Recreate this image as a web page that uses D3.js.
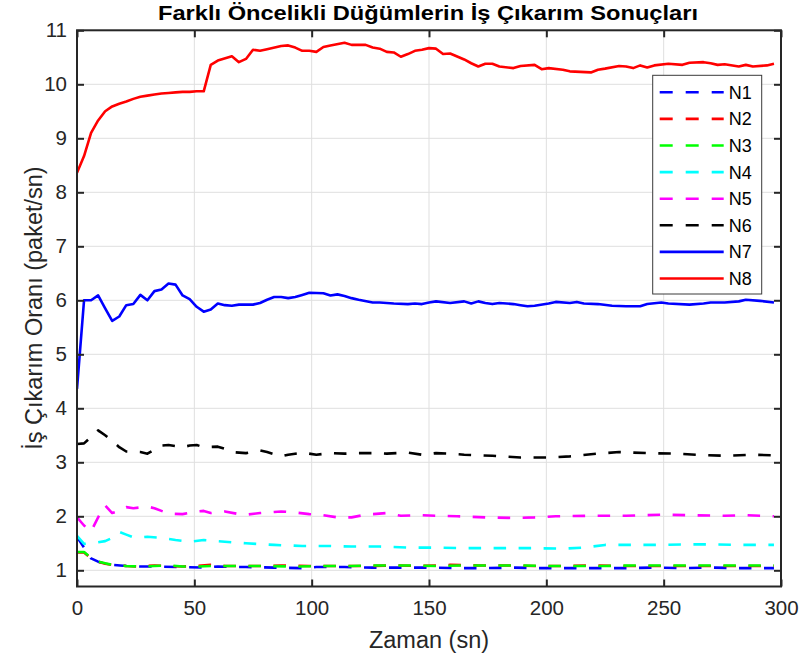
<!DOCTYPE html>
<html><head><meta charset="utf-8">
<script src="https://cdn.jsdelivr.net/npm/d3@7/dist/d3.min.js"></script>
<style>
body{margin:0;background:#fff}
svg{display:block}
text{font-family:"Liberation Sans",Arial,Helvetica,sans-serif}
</style>
</head><body>
<svg id="chart" width="799" height="661"></svg>
<script>
// ---- data (time in s, rate in paket/sn) ----
const titleText = "Farklı Öncelikli Düğümlerin İş Çıkarım Sonuçları";
const xLabel = "Zaman (sn)";
const yLabel = "İş Çıkarım Oranı (paket/sn)";
const xTicks = [0, 50, 100, 150, 200, 250, 300];
const yTicks = [1, 2, 3, 4, 5, 6, 7, 8, 9, 10, 11];
const seriesNames = ["N1", "N2", "N3", "N4", "N5", "N6", "N7", "N8"];

const n1 = [[0,1.62],[3,1.42],[6,1.22],[9,1.16],[12,1.12],[15,1.10],[21,1.08],[27,1.07],[33,1.07],[45,1.06],[54,1.05],[60,1.07],[72,1.06],[84,1.05],[96,1.04],[102,1.06],[114,1.06],[126,1.05],[138,1.05],[150,1.05],[162,1.04],[174,1.04],[186,1.05],[198,1.04],[210,1.04],[222,1.04],[234,1.04],[246,1.05],[258,1.04],[270,1.05],[282,1.04],[297,1.04]];
const n2 = [[0,1.33],[3,1.33],[6,1.22],[9,1.16],[12,1.12],[15,1.10],[21,1.08],[27,1.07],[33,1.09],[39,1.08],[45,1.07],[51,1.08],[57,1.10],[63,1.08],[69,1.08],[81,1.08],[87,1.09],[99,1.08],[111,1.08],[123,1.08],[135,1.09],[147,1.08],[159,1.10],[171,1.09],[183,1.09],[195,1.08],[207,1.08],[219,1.09],[231,1.08],[243,1.08],[255,1.08],[267,1.08],[279,1.08],[297,1.08]];
const n3 = [[0,1.34],[3,1.34],[6,1.23],[9,1.16],[12,1.13],[15,1.10],[21,1.08],[27,1.07],[33,1.08],[39,1.09],[45,1.07],[51,1.07],[57,1.08],[69,1.08],[81,1.08],[93,1.07],[105,1.08],[117,1.08],[129,1.09],[141,1.09],[153,1.08],[165,1.09],[177,1.09],[189,1.09],[201,1.08],[213,1.08],[225,1.08],[237,1.09],[249,1.09],[261,1.09],[273,1.09],[285,1.09],[297,1.09]];
const n4 = [[0,1.64],[3,1.49],[6,1.50],[9,1.52],[12,1.54],[15,1.60],[18,1.71],[21,1.66],[24,1.61],[27,1.61],[30,1.62],[36,1.60],[42,1.56],[48,1.53],[54,1.56],[63,1.53],[72,1.50],[84,1.47],[96,1.45],[108,1.45],[117,1.44],[129,1.44],[141,1.42],[153,1.42],[165,1.41],[174,1.41],[195,1.41],[207,1.40],[216,1.42],[225,1.47],[237,1.47],[249,1.47],[261,1.48],[270,1.48],[282,1.47],[297,1.47]];
const n5 = [[0,1.98],[3,1.83],[6,1.72],[9,1.98],[12,2.20],[15,2.06],[18,2.10],[21,2.17],[24,2.15],[30,2.18],[33,2.15],[36,2.10],[39,2.05],[45,2.04],[51,2.09],[54,2.10],[57,2.06],[63,2.09],[69,2.04],[72,2.03],[78,2.06],[84,2.08],[87,2.09],[93,2.07],[99,2.04],[105,2.02],[111,1.98],[117,1.98],[123,2.03],[132,2.06],[138,2.01],[147,2.02],[153,2.01],[162,2.00],[174,1.98],[186,1.97],[195,1.98],[204,2.00],[219,2.01],[234,2.01],[249,2.03],[261,2.02],[276,2.01],[285,2.02],[297,2.00]];
const n6 = [[0,3.34],[3,3.35],[6,3.47],[9,3.59],[12,3.50],[15,3.40],[18,3.28],[21,3.20],[27,3.19],[30,3.16],[36,3.31],[39,3.32],[42,3.30],[45,3.28],[48,3.31],[51,3.32],[54,3.28],[60,3.29],[63,3.25],[66,3.19],[72,3.17],[78,3.22],[81,3.19],[87,3.11],[90,3.14],[96,3.18],[102,3.14],[108,3.17],[114,3.16],[120,3.17],[126,3.17],[132,3.16],[141,3.18],[147,3.14],[153,3.17],[159,3.16],[165,3.14],[177,3.12],[189,3.09],[201,3.09],[210,3.11],[219,3.15],[231,3.19],[243,3.17],[255,3.16],[264,3.14],[276,3.12],[288,3.14],[297,3.13]];
const n7 = [[0,4.36],[3,6.00],[6,6.00],[9,6.09],[12,5.85],[15,5.62],[18,5.70],[21,5.91],[24,5.93],[27,6.10],[30,6.00],[33,6.17],[36,6.20],[39,6.31],[42,6.29],[45,6.09],[48,6.02],[51,5.88],[54,5.79],[57,5.83],[60,5.94],[63,5.91],[66,5.90],[69,5.92],[75,5.92],[78,5.95],[81,6.01],[84,6.06],[87,6.06],[90,6.04],[93,6.06],[96,6.10],[99,6.14],[105,6.13],[108,6.09],[111,6.11],[114,6.08],[117,6.04],[120,6.01],[126,5.96],[129,5.96],[135,5.94],[141,5.93],[144,5.94],[147,5.93],[150,5.96],[153,5.98],[159,5.95],[165,5.98],[168,5.94],[171,5.98],[174,5.95],[177,5.93],[180,5.95],[186,5.93],[189,5.91],[192,5.89],[195,5.90],[201,5.94],[204,5.97],[210,5.95],[213,5.97],[216,5.94],[222,5.93],[228,5.90],[234,5.89],[240,5.89],[243,5.93],[249,5.96],[252,5.94],[261,5.92],[267,5.94],[270,5.96],[276,5.96],[282,5.98],[285,6.01],[291,5.99],[297,5.96]];
const n8 = [[0,8.36],[3,8.67],[6,9.10],[9,9.33],[12,9.50],[15,9.59],[18,9.64],[21,9.68],[24,9.73],[27,9.77],[30,9.79],[33,9.81],[36,9.83],[39,9.84],[42,9.85],[45,9.86],[48,9.86],[51,9.87],[54,9.87],[57,10.36],[60,10.44],[66,10.52],[69,10.41],[72,10.47],[75,10.64],[78,10.62],[81,10.65],[87,10.71],[90,10.72],[93,10.68],[96,10.62],[99,10.62],[102,10.60],[105,10.69],[108,10.72],[114,10.77],[117,10.73],[123,10.73],[126,10.68],[129,10.66],[132,10.60],[135,10.59],[138,10.51],[141,10.56],[144,10.62],[147,10.64],[150,10.67],[153,10.66],[156,10.56],[159,10.57],[165,10.46],[168,10.39],[171,10.33],[174,10.38],[177,10.38],[180,10.33],[186,10.30],[189,10.34],[195,10.36],[198,10.28],[201,10.30],[207,10.27],[210,10.24],[219,10.22],[222,10.27],[225,10.29],[231,10.34],[234,10.33],[237,10.30],[240,10.35],[243,10.31],[246,10.35],[252,10.38],[258,10.36],[261,10.40],[267,10.41],[270,10.39],[273,10.36],[276,10.37],[282,10.33],[285,10.36],[288,10.33],[294,10.35],[297,10.38]];

const seriesData = [n1, n2, n3, n4, n5, n6, n7, n8];

// ---- styles ----
const colors = ["#0000ff", "#ff0000", "#00ff00", "#00ffff", "#ff00ff", "#000000", "#0000ff", "#ff0000"];
const dashed = [true, true, true, true, true, true, false, false];
const DASH = "12.5,12.5";

const svg = d3.select("#chart");
const L = 77, R = 781, T = 30.3, B = 586.5;
const x = d3.scaleLinear().domain([0, 300]).range([L, R]);
const y = d3.scaleLinear().domain([0.7, 11]).range([B, T]);
const axisColor = "#262626";

// grid
const grid = svg.append("g");
grid.selectAll("line.gx").data(xTicks).join("line")
  .attr("x1", d => x(d)).attr("x2", d => x(d)).attr("y1", T).attr("y2", B)
  .attr("stroke", "#dfdfdf").attr("stroke-width", 1);
grid.selectAll("line.gy").data(yTicks).join("line")
  .attr("y1", d => y(d)).attr("y2", d => y(d)).attr("x1", L).attr("x2", R)
  .attr("stroke", "#dfdfdf").attr("stroke-width", 1);

// clip
svg.append("defs").append("clipPath").attr("id", "clip")
  .append("rect").attr("x", L).attr("y", T).attr("width", R - L).attr("height", B - T);

const line = d3.line().x(d => x(d[0])).y(d => y(d[1]));
const lines = svg.append("g").attr("clip-path", "url(#clip)");
seriesData.forEach((s, i) => {
  lines.append("path").datum(s)
    .attr("d", line).attr("fill", "none")
    .attr("stroke", colors[i]).attr("stroke-width", 2.6)
    .attr("stroke-linejoin", "round")
    .attr("stroke-dasharray", dashed[i] ? DASH : null);
});

// axes (MATLAB style: ticks inside, box on)
const tickLen = 7;
const axB = svg.append("g").attr("transform", `translate(0,${B})`)
  .call(d3.axisBottom(x).tickValues(xTicks).tickSize(-tickLen).tickPadding(14).tickFormat(d3.format("d")));
const axT = svg.append("g").attr("transform", `translate(0,${T})`)
  .call(d3.axisTop(x).tickValues(xTicks).tickSize(-tickLen).tickFormat(""));
const axL = svg.append("g").attr("transform", `translate(${L},0)`)
  .call(d3.axisLeft(y).tickValues(yTicks).tickSize(-tickLen).tickPadding(10).tickFormat(d3.format("d")));
const axR = svg.append("g").attr("transform", `translate(${R},0)`)
  .call(d3.axisRight(y).tickValues(yTicks).tickSize(-tickLen).tickFormat(""));
[axB, axT, axL, axR].forEach(a => {
  a.select(".domain").remove();
  a.selectAll(".tick line").attr("stroke", axisColor).attr("stroke-width", 2);
  a.selectAll(".tick text").attr("fill", axisColor).attr("font-size", 20.5)
    .attr("font-family", '"Liberation Sans",Arial,sans-serif');
});
svg.append("rect").attr("x", L).attr("y", T).attr("width", R - L).attr("height", B - T)
  .attr("fill", "none").attr("stroke", axisColor).attr("stroke-width", 2);

// title & labels
svg.append("text").attr("x", 428).attr("y", 19.5).attr("text-anchor", "middle")
  .attr("font-size", 21).attr("font-weight", "bold").attr("fill", "#000")
  .attr("textLength", 540).attr("lengthAdjust", "spacingAndGlyphs").text(titleText);
svg.append("text").attr("x", 429).attr("y", 648).attr("text-anchor", "middle")
  .attr("font-size", 23.5).attr("fill", axisColor).text(xLabel);
svg.append("text").attr("transform", "translate(42,308) rotate(-90)").attr("text-anchor", "middle")
  .attr("font-size", 23.5).attr("fill", axisColor).text(yLabel);

// legend
const lg = svg.append("g");
const lgX = 652.7, lgY = 75.3, lgW = 109, lgH = 218.7, rowH = 26.6;
lg.append("rect").attr("x", lgX).attr("y", lgY).attr("width", lgW).attr("height", lgH)
  .attr("fill", "#fff").attr("stroke", "#3a3a3a").attr("stroke-width", 1);
seriesNames.forEach((n, i) => {
  const yy = lgY + 17 + i * rowH;
  lg.append("line").attr("x1", lgX + 7).attr("x2", lgX + 71).attr("y1", yy).attr("y2", yy)
    .attr("stroke", colors[i]).attr("stroke-width", 2.6)
    .attr("stroke-dasharray", dashed[i] ? "13,13" : null);
  lg.append("text").attr("x", lgX + 76).attr("y", yy).attr("dy", "0.36em")
    .attr("font-size", 18).attr("fill", "#000").text(n);
});
</script>
</body></html>
